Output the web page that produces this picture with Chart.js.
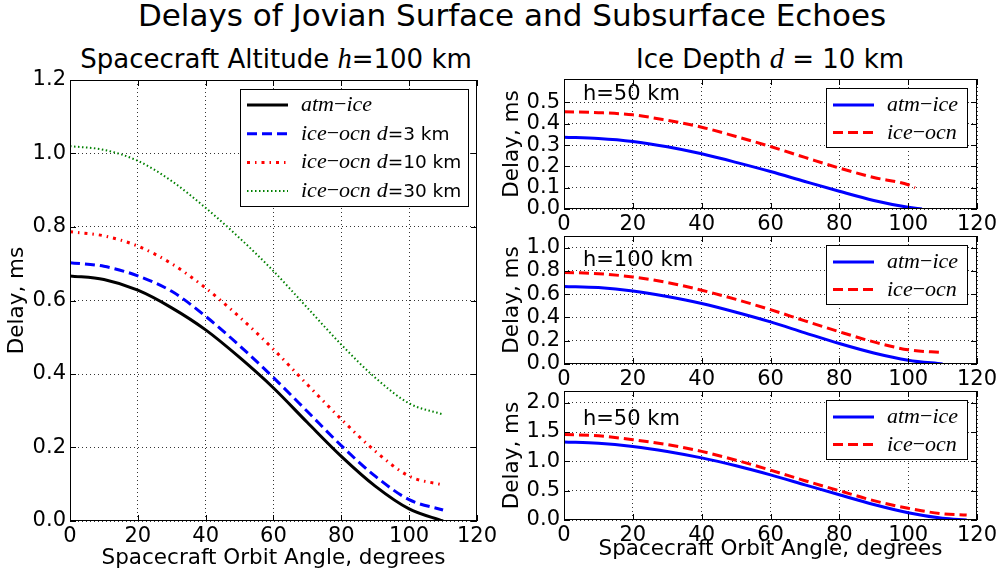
<!DOCTYPE html>
<html>
<head>
<meta charset="utf-8">
<script src="https://cdn.jsdelivr.net/npm/chart.js@4.4.1/dist/chart.umd.min.js"></script>
<style>
  body { margin: 0; background: #fff; width: 1003px; height: 576px; position: relative; overflow: hidden; font-family: "DejaVu Sans"; color: #000; }
  .title { position: absolute; white-space: nowrap; transform: translateX(-50%); line-height: 1; }
  .m { font-family: "Liberation Serif"; font-style: italic; font-size: 1.1em; }
  canvas { position: absolute; }
</style>
</head>
<body>
<div class="title" style="left:512px; top:0px; font-size:31px;">Delays of Jovian Surface and Subsurface Echoes</div>
<div class="title" style="left:276px; top:45px; font-size:26px;">Spacecraft Altitude <span class="m">h</span>=100 km</div>
<div class="title" style="left:770px; top:45px; font-size:26px;">Ice Depth <span class="m">d</span> = 10 km</div>

<canvas id="leftChart" width="500" height="516" style="left:0; top:60px;"></canvas>
<canvas id="topChart" width="503" height="180" style="left:500px; top:59px;"></canvas>
<canvas id="midChart" width="503" height="178" style="left:500px; top:216px;"></canvas>
<canvas id="botChart" width="503" height="205" style="left:500px; top:371px;"></canvas>

<script>
// Orbit angles (degrees)
const angles = [0, 10, 20, 30, 40, 50, 60, 70, 80, 90, 100, 110];

// h = 100 km
const atmIce100 = [0.667, 0.657, 0.628, 0.580, 0.520, 0.445, 0.362, 0.268, 0.176, 0.095, 0.033, 0.0];
const iceOcn100d3 = [0.703, 0.693, 0.667, 0.625, 0.557, 0.477, 0.390, 0.298, 0.205, 0.122, 0.058, 0.030];
const iceOcn100d10 = [0.787, 0.776, 0.748, 0.700, 0.634, 0.555, 0.467, 0.371, 0.277, 0.190, 0.122, 0.098];
const iceOcn100d30 = [1.020, 1.010, 0.980, 0.925, 0.852, 0.770, 0.680, 0.580, 0.480, 0.390, 0.320, 0.290];

// h = 50 km (top right)
const anglesTopBlue = [0, 10, 20, 30, 40, 50, 60, 70, 80, 90, 100, 104];
const atmIceTop = [0.337, 0.331, 0.317, 0.292, 0.259, 0.219, 0.176, 0.129, 0.083, 0.040, 0.008, 0.0];
const anglesTopRed = [0, 10, 20, 30, 40, 50, 60, 70, 80, 90, 100, 102];
const iceOcnTop = [0.456, 0.452, 0.442, 0.416, 0.384, 0.340, 0.293, 0.242, 0.192, 0.148, 0.114, 0.100];

// bottom right panel
const anglesBot = [0, 10, 20, 30, 40, 50, 60, 70, 80, 90, 100, 110, 117];
const atmIceBot = [1.330, 1.310, 1.255, 1.170, 1.060, 0.925, 0.770, 0.600, 0.430, 0.265, 0.125, 0.030, 0.0];
const iceOcnBot = [1.457, 1.435, 1.370, 1.285, 1.170, 1.020, 0.850, 0.670, 0.500, 0.330, 0.200, 0.105, 0.085];

// tick labels
const xTicks = [0, 20, 40, 60, 80, 100, 120];
const yTicksLeft = [0, 0.2, 0.4, 0.6, 0.8, 1.0, 1.2];
const yTicksTop = [0, 0.1, 0.2, 0.3, 0.4, 0.5];
const yTicksMid = [0, 0.2, 0.4, 0.6, 0.8, 1.0];
const yTicksBot = [0, 0.5, 1.0, 1.5, 2.0];

// legend labels (italic math parts marked with 'm')
const lblAtmIce = [['atm', 'm'], ['\u2212', 'r'], ['ice', 'm']];
const lblIceOcn = [['ice', 'm'], ['\u2212', 'r'], ['ocn', 'm']];
function lblDepth(d) { return lblIceOcn.concat([[' ', 's'], ['d', 'm'], ['=' + d + ' km', 's']]); }

const tickFont = { family: 'DejaVu Sans', size: 21 };
const labelFont = { family: 'DejaVu Sans', size: 21.5 };

function pts(xs, ys) { return xs.map((x, i) => ({ x: x, y: ys[i] })); }

function drawRich(ctx, parts, x, y) {
  ctx.textBaseline = 'alphabetic';
  parts.forEach(p => {
    if (p[1] === 'm') ctx.font = 'italic 22px "Liberation Serif"';
    else if (p[1] === 'r') ctx.font = '22px "Liberation Serif"';
    else ctx.font = '18.5px "DejaVu Sans"';
    ctx.fillText(p[0], x, y);
    x += ctx.measureText(p[0]).width;
  });
}

// matplotlib-like frame, inward ticks, annotation and boxed legend
const mplFrame = {
  id: 'mplFrame',
  afterDraw(chart, args, opts) {
    const ctx = chart.ctx, a = chart.chartArea;
    const xs = chart.scales.x, ys = chart.scales.y;
    ctx.save();
    ctx.strokeStyle = '#000';
    ctx.lineWidth = 1;
    ctx.beginPath();
    xs.ticks.forEach(t => {
      const px = Math.round(xs.getPixelForValue(t.value)) + 0.5;
      ctx.moveTo(px, a.bottom); ctx.lineTo(px, a.bottom - 6);
      ctx.moveTo(px, a.top); ctx.lineTo(px, a.top + 6);
    });
    ys.ticks.forEach(t => {
      const py = Math.round(ys.getPixelForValue(t.value)) + 0.5;
      ctx.moveTo(a.left, py); ctx.lineTo(a.left + 6, py);
      ctx.moveTo(a.right, py); ctx.lineTo(a.right - 6, py);
    });
    ctx.stroke();
    ctx.strokeRect(Math.round(a.left) + 0.5, Math.round(a.top) + 0.5, Math.round(a.width) - 1, Math.round(a.height) - 1);

    if (opts.note) {
      ctx.fillStyle = '#000';
      ctx.font = '21px "DejaVu Sans"';
      ctx.textBaseline = 'middle';
      ctx.fillText(opts.note.text, xs.getPixelForValue(opts.note.x), ys.getPixelForValue(opts.note.y));
    }

    if (opts.box) {
      const L = opts.box;
      const bx = Math.round(a.right - L.right - L.w), by = Math.round(a.top + L.top);
      ctx.fillStyle = '#fff';
      ctx.fillRect(bx, by, L.w, L.h);
      ctx.strokeStyle = '#000';
      ctx.lineWidth = 1;
      ctx.strokeRect(bx + 0.5, by + 0.5, L.w, L.h);
      chart.data.datasets.forEach((ds, i) => {
        const y = by + L.first + i * L.step;
        ctx.beginPath();
        ctx.strokeStyle = ds.borderColor;
        ctx.lineWidth = ds.borderWidth;
        ctx.setLineDash(ds.borderDash || []);
        ctx.moveTo(bx + 7, y);
        ctx.lineTo(bx + 48, y);
        ctx.stroke();
        ctx.setLineDash([]);
        ctx.fillStyle = '#000';
        drawRich(ctx, ds.richLabel, bx + 61, y + 6);
      });
    }
    ctx.restore();
  }
};

function line(label, parts, xs, ys, color, width, dash) {
  return {
    label: label, richLabel: parts, data: pts(xs, ys),
    borderColor: color, borderWidth: width, borderDash: dash,
    pointRadius: 0, fill: false, cubicInterpolationMode: 'monotone'
  };
}

function makeChart(id, cfg) {
  return new Chart(document.getElementById(id), {
    type: 'line',
    data: { datasets: cfg.datasets },
    options: {
      responsive: false,
      animation: false,
      layout: { padding: { top: 20, right: cfg.padRight, left: 0, bottom: 0 } },
      plugins: {
        legend: { display: false },
        tooltip: { enabled: false },
        mplFrame: { note: cfg.note, box: cfg.box }
      },
      scales: {
        x: {
          type: 'linear', min: 0, max: 120,
          afterBuildTicks: s => { s.ticks = xTicks.map(v => ({ value: v })); },
          afterFit: s => { s.height = cfg.xHeight; },
          ticks: { font: tickFont, color: '#000', padding: 3, maxRotation: 0, autoSkip: false },
          grid: { color: '#000', lineWidth: 0.8, drawTicks: false },
          border: { display: false, dash: [1, 3] },
          title: cfg.xTitle ? { display: true, text: 'Spacecraft Orbit Angle, degrees', font: labelFont, color: '#000', padding: { top: 0, bottom: cfg.xTitlePad } } : { display: false }
        },
        y: {
          type: 'linear', min: 0, max: cfg.yMax,
          afterBuildTicks: s => { s.ticks = cfg.yTicks.map(v => ({ value: v })); },
          afterFit: s => { s.width = cfg.yWidth; },
          ticks: { font: tickFont, color: '#000', padding: 4, autoSkip: false, callback: v => v.toFixed(1) },
          grid: { color: '#000', lineWidth: 0.8, drawTicks: false },
          border: { display: false, dash: [1, 3] },
          title: { display: true, text: 'Delay, ms', font: labelFont, color: '#000', padding: { top: cfg.yTitlePad, bottom: 0 } }
        }
      }
    },
    plugins: [mplFrame]
  });
}

// left panel: h = 100 km
makeChart('leftChart', {
  datasets: [
    line('atm-ice', lblAtmIce, angles, atmIce100, '#000000', 3, []),
    line('ice-ocn d=3 km', lblDepth(3), angles, iceOcn100d3, '#0000ff', 3, [10, 5]),
    line('ice-ocn d=10 km', lblDepth(10), angles, iceOcn100d10, '#ff0000', 3, [3, 5, 1.5, 5]),
    line('ice-ocn d=30 km', lblDepth(30), angles, iceOcn100d30, '#008000', 2, [1.5, 2.5])
  ],
  yMax: 1.2, yTicks: yTicksLeft, yWidth: 70, padRight: 18, xHeight: 55,
  xTitle: true, xTitlePad: 5, yTitlePad: 5,
  box: { w: 228, h: 117, right: 9, top: 9, first: 16, step: 28.7 }
});

// right panels: d = 10 km
const rightBox = { w: 141, h: 59, right: 10, top: 9, first: 17, step: 27.5 };

makeChart('topChart', {
  datasets: [
    line('atm-ice', lblAtmIce, anglesTopBlue, atmIceTop, '#0000ff', 3, []),
    line('ice-ocn', lblIceOcn, anglesTopRed, iceOcnTop, '#ff0000', 3, [10, 5])
  ],
  yMax: 0.61, yTicks: yTicksTop, yWidth: 64, padRight: 26, xHeight: 30,
  xTitle: false, yTitlePad: 0,
  note: { text: 'h=50 km', x: 5.5, y: 0.536 },
  box: rightBox
});

makeChart('midChart', {
  datasets: [
    line('atm-ice', lblAtmIce, angles, atmIce100, '#0000ff', 3, []),
    line('ice-ocn', lblIceOcn, angles, iceOcn100d10, '#ff0000', 3, [10, 5])
  ],
  yMax: 1.1, yTicks: yTicksMid, yWidth: 64, padRight: 26, xHeight: 30,
  xTitle: false, yTitlePad: 0,
  note: { text: 'h=100 km', x: 5.5, y: 0.885 },
  box: rightBox
});

makeChart('botChart', {
  datasets: [
    line('atm-ice', lblAtmIce, anglesBot, atmIceBot, '#0000ff', 3, []),
    line('ice-ocn', lblIceOcn, anglesBot, iceOcnBot, '#ff0000', 3, [10, 5])
  ],
  yMax: 2.2, yTicks: yTicksBot, yWidth: 64, padRight: 26, xHeight: 56,
  xTitle: true, xTitlePad: 14, yTitlePad: 0,
  note: { text: 'h=50 km', x: 5.5, y: 1.705 },
  box: rightBox
});
</script>
</body>
</html>
